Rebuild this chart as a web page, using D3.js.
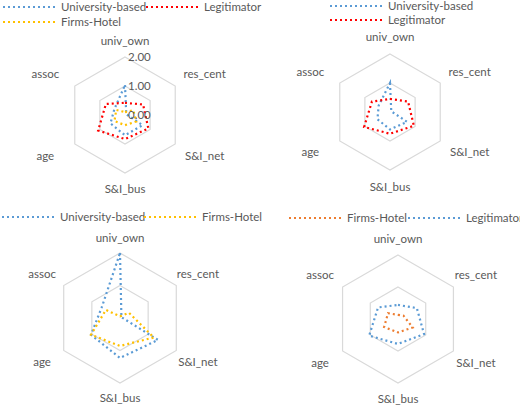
<!DOCTYPE html><html><head><meta charset="utf-8">
<script src="https://d3js.org/d3.v7.min.js"></script>
<style>body{margin:0;background:#fff}</style></head><body>
<svg id="c" width="520" height="406"></svg>
<script>
const axes = ["univ_own","res_cent","S&I_net","S&I_bus","age","assoc"];
const tickLabels = ["0.00","1.00","2.00"];
// panel 1
const p1Univ = [1.03,0.05,0.7,0.7,0.58,0.42];
const p1Legit = [0.42,0.72,0.93,0.83,1.07,0.76];
const p1Firms = [0.1,0.33,0.45,0.35,0.42,0.35];
// panel 2
const p2Univ = [1.0,0.05,0.68,0.6,0.5,0.45];
const p2Legit = [0.45,0.72,0.95,0.75,1.03,0.72];
// panel 3
const p3Univ = [2.0,0.05,1.35,1.23,1.03,0.65];
const p3Firms = [0.05,0.32,1.2,0.86,1.03,0.5];
// panel 4
const p4Firms = [0.13,0.2,0.53,0.42,0.5,0.36];
const p4Legit = [0.44,0.68,0.94,0.78,1.04,0.72];

const C = {blue:"#5B9BD5",red:"#FF0000",yellow:"#FFC000",orange:"#ED7D31"};
const svg = d3.select("#c");
const font = "Lato, 'Liberation Sans', sans-serif";
const fs = 11.5;

function panel(cx, cy, R, series, legend, showTicks, labR){
  const g = svg.append("g").attr("transform",`translate(${cx},${cy})`);
  const r = d3.scaleLinear().domain([0,2]).range([0,R]);
  const ang = d3.scaleLinear().domain([0,axes.length]).range([0,2*Math.PI]);
  const pt = (i,v)=>[r(v)*Math.sin(ang(i)), -r(v)*Math.cos(ang(i))];
  const line = d3.line().curve(d3.curveLinearClosed);
  [1,2].forEach(t=>{
    g.append("path").attr("d", line(axes.map((a,i)=>pt(i,t))))
      .attr("fill","none").attr("stroke","#d9d9d9").attr("stroke-width",1.2);
  });
  series.forEach(s=>{
    g.append("path").attr("d", line(s.values.map((v,i)=>pt(i,v))))
      .attr("fill","none").attr("stroke",s.color).attr("stroke-width",2.2)
      .attr("stroke-dasharray","2,3");
  });
  if(showTicks){
    tickLabels.forEach((t,i)=>{
      g.append("text").attr("x",3).attr("y",-r(+t)+4).text(t)
        .attr("font-family",font).attr("font-size",fs).attr("fill","#595959");
    });
  }
  axes.forEach((a,i)=>{
    const an = ang(i);
    let x = labR.x*Math.sin(an), y = -labR.y*Math.cos(an);
    if(i===0) y = -labR.top; if(i===3) y = labR.top;
    g.append("text").attr("x",x).attr("y",y+4).text(a).attr("text-anchor","middle")
      .attr("font-family",font).attr("font-size",fs).attr("fill","#595959");
  });
  legend.forEach(l=>{
    svg.append("line").attr("x1",l.x).attr("x2",l.x+54).attr("y1",l.y).attr("y2",l.y)
      .attr("stroke",l.color).attr("stroke-width",2.2).attr("stroke-dasharray","2,3");
    svg.append("text").attr("x",l.x+58).attr("y",l.y+4).text(l.name)
      .attr("font-family",font).attr("font-size",fs).attr("fill","#595959");
  });
}
panel(125,115,58,[{values:p1Univ,color:C.blue},{values:p1Legit,color:C.red},{values:p1Firms,color:C.yellow}],
  [{x:3,y:7,color:C.blue,name:"University-based"},{x:146,y:7,color:C.red,name:"Legitimator"},{x:3,y:22,color:C.yellow,name:"Firms-Hotel"}],
  true,{x:92,y:82,top:74});
panel(390,112,58,[{values:p2Univ,color:C.blue},{values:p2Legit,color:C.red}],
  [{x:330,y:6,color:C.blue,name:"University-based"},{x:330,y:20,color:C.red,name:"Legitimator"}],
  false,{x:92,y:80,top:75});
panel(120,318,65,[{values:p3Univ,color:C.blue},{values:p3Firms,color:C.yellow}],
  [{x:2,y:217,color:C.blue,name:"University-based"},{x:144,y:217,color:C.yellow,name:"Firms-Hotel"}],
  false,{x:90,y:88,top:80});
panel(398,319,64,[{values:p4Firms,color:C.orange},{values:p4Legit,color:C.blue}],
  [{x:289,y:218,color:C.orange,name:"Firms-Hotel"},{x:408,y:218,color:C.blue,name:"Legitimator"}],
  false,{x:90,y:88,top:80});
</script></body></html>
